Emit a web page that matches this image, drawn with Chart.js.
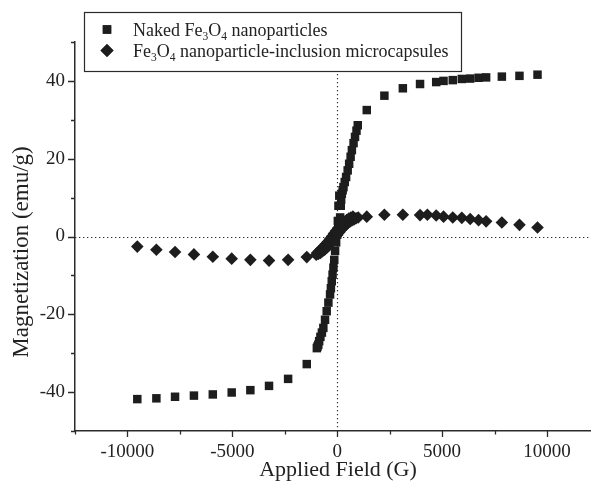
<!DOCTYPE html>
<html>
<head>
<meta charset="utf-8">
<script src="https://cdn.jsdelivr.net/npm/chart.js@4.4.1/dist/chart.umd.min.js"></script>
<style>
    html, body { margin: 0; padding: 0; background: #fff; }
    canvas { display: block; }
</style>
</head>
<body>
<canvas id="loopChart" width="591" height="482"></canvas>
<script>
// ------------------------------------------------------------------
// Data (field in G, magnetization in emu/g)
// ------------------------------------------------------------------

const nakedField = [
    -9530, -8620, -7730, -6830, -5930, -5030, -4140, -3250, -2340, -1450,
    -970, -940, -900, -860, -800, -730, -660, -580, -500, -420,
    -340, -300, -260, -220, -180, -140, -100, -50, 0, 30,
    50, 60, 90, 100, 140, 170, 190, 220, 260, 300,
    360, 425, 500, 570, 640, 700, 780, 850, 920, 980,
    1410, 2250, 3130, 3950, 4720, 5070, 5510, 5940, 6340, 6740,
    7100, 7850, 8690, 9550,
];
const nakedMag = [
    -41.8, -41.6, -41.2, -40.9, -40.6, -40.1, -39.5, -38.4, -36.6, -32.8,
    -28.7, -28.3, -27.8, -26.9, -25.8, -24.7, -23.5, -21.4, -19.2, -17.0,
    -14.9, -13.3, -11.5, -9.8, -8.0, -6.0, -3.7, -1.5, 0.5, 4.0,
    2.5, 7.9, 3.2, 10.5, 4.9, 7.9, 9.5, 11.0, 11.9, 12.7,
    14.0, 15.3, 17.0, 18.7, 20.5, 22.2, 24.0, 25.6, 27.2, 28.6,
    32.5, 36.2, 38.1, 39.2, 39.7, 40.0, 40.2, 40.5, 40.6, 40.8,
    40.9, 41.1, 41.3, 41.6,
];

const capsuleField = [
    -9530, -8620, -7730, -6830, -5930, -5030, -4140, -3250, -2340, -1450,
    -1000, -950, -900, -850, -800, -750, -700, -650, -600, -550,
    -500, -450, -400, -350, -300, -250, -200, -150, -100, -50,
    0, 50, 100, 150, 200, 250, 300, 350, 400, 450,
    500, 550, 600, 650, 700, 750, 800, 900, 1000, 1410,
    2250, 3130, 3950, 4300, 4720, 5070, 5510, 5940, 6340, 6740,
    7100, 7850, 8690, 9550,
];
const capsuleMag = [
    -2.6, -3.4, -4.0, -4.6, -5.2, -5.7, -6.0, -6.2, -6.0, -5.3,
    -4.7, -4.2, -4.5, -3.7, -4.2, -3.2, -3.8, -2.6, -3.4, -2.0,
    -2.9, -1.4, -2.3, -0.7, -1.7, 0.0, -1.0, 0.8, -0.3, 1.5,
    0.4, 2.2, 1.1, 2.8, 1.8, 3.3, 2.4, 3.8, 2.9, 4.2,
    3.4, 4.6, 3.8, 4.9, 4.1, 5.1, 4.4, 4.7, 4.9, 5.1,
    5.6, 5.6, 5.5, 5.6, 5.4, 5.1, 4.9, 4.8, 4.5, 4.2,
    3.9, 3.6, 3.0, 2.3,
];

const xTickValues = [-12500, -10000, -7500, -5000, -2500, 0, 2500, 5000, 7500, 10000];
const yTickValues = [-50, -40, -30, -20, -10, 0, 10, 20, 30, 40, 50];

const xTitle = 'Applied Field (G)';
const yTitle = 'Magnetization (emu/g)';

// legend rows: [text, isSubscript]
const legendRows = [
    { style: 'rect', parts: [['Naked Fe', false], ['3', true], ['O', false], ['4', true], [' nanoparticles', false]] },
    { style: 'rectRot', parts: [['Fe', false], ['3', true], ['O', false], ['4', true], [' nanoparticle-inclusion microcapsules', false]] },
];

const INK = '#1d1d1d';
const AXIS = '#2b2b2b';
const SERIF = '"Liberation Serif", "Times New Roman", serif';

function to_points(xs, ys) {
    return xs.map((v, i) => ({ x: v, y: ys[i] }));
}

// ------------------------------------------------------------------
// Extra drawing: zero lines, tick marks, titles, legend box
// ------------------------------------------------------------------

function draw_rich(ctx, parts, x, y) {
    let cx = x;
    parts.forEach(([text, sub]) => {
        ctx.font = sub ? `11.5px ${SERIF}` : `18px ${SERIF}`;
        ctx.fillText(text, cx, sub ? y + 4.5 : y);
        cx += ctx.measureText(text).width;
    });
}

const decorations = {
    id: 'decorations',
    beforeDatasetsDraw(chart) {
        const { ctx, chartArea: a, scales: { x, y } } = chart;
        ctx.save();
        ctx.strokeStyle = AXIS;
        ctx.lineWidth = 1.2;
        ctx.setLineDash([1.3, 2.7]);
        const x0 = Math.round(x.getPixelForValue(0)) + 0.5;
        const y0 = Math.round(y.getPixelForValue(0)) + 0.5;
        ctx.beginPath();
        ctx.moveTo(x0, a.top);
        ctx.lineTo(x0, a.bottom);
        ctx.moveTo(a.left, y0);
        ctx.lineTo(a.right, y0);
        ctx.stroke();
        ctx.restore();
    },
    afterDraw(chart) {
        const { ctx, chartArea: a, scales: { x, y } } = chart;
        ctx.save();

        // tick marks, major longer than minor
        ctx.strokeStyle = AXIS;
        ctx.lineWidth = 1.3;
        ctx.beginPath();
        x.ticks.forEach(t => {
            const px = Math.round(x.getPixelForValue(t.value)) + 0.5;
            const len = t.value % 5000 === 0 ? 6 : 3.5;
            ctx.moveTo(px, a.bottom);
            ctx.lineTo(px, a.bottom + len);
        });
        y.ticks.forEach(t => {
            const py = Math.round(y.getPixelForValue(t.value)) + 0.5;
            const len = t.value % 20 === 0 ? 7 : 4;
            ctx.moveTo(a.left - len, py);
            ctx.lineTo(a.left, py);
        });
        ctx.stroke();

        // axis titles
        ctx.fillStyle = '#222';
        ctx.font = `22px ${SERIF}`;
        ctx.textAlign = 'center';
        ctx.textBaseline = 'middle';
        ctx.fillText(xTitle, 338, 470);
        ctx.save();
        ctx.translate(22, 252);
        ctx.rotate(-Math.PI / 2);
        ctx.font = `23px ${SERIF}`;
        ctx.fillText(yTitle, 0, 0);
        ctx.restore();

        // legend box
        const box = { left: 84, top: 12, right: 461, bottom: 71 };
        ctx.fillStyle = '#fff';
        ctx.fillRect(box.left, box.top, box.right - box.left, box.bottom - box.top);
        ctx.strokeStyle = AXIS;
        ctx.lineWidth = 1.2;
        ctx.strokeRect(box.left + 0.5, box.top + 0.5, box.right - box.left, box.bottom - box.top);

        ctx.textAlign = 'left';
        ctx.textBaseline = 'alphabetic';
        legendRows.forEach((row, i) => {
            const cy = 29.5 + i * 21;
            ctx.fillStyle = INK;
            Chart.helpers.drawPoint(ctx, { pointStyle: row.style, radius: row.style === 'rect' ? 6 : 6.5, borderWidth: 0 }, 107, cy);
            ctx.fill();
            ctx.fillStyle = '#222';
            draw_rich(ctx, row.parts, 133, cy + 6);
        });

        ctx.restore();
    },
};

// ------------------------------------------------------------------
// Chart
// ------------------------------------------------------------------

new Chart(document.getElementById('loopChart'), {
    type: 'scatter',
    data: {
        datasets: [
            {
                label: 'Naked Fe3O4 nanoparticles',
                data: to_points(nakedField, nakedMag),
                pointStyle: 'rect',
                pointRadius: 6,
                backgroundColor: INK,
                borderWidth: 0,
            },
            {
                label: 'Fe3O4 nanoparticle-inclusion microcapsules',
                data: to_points(capsuleField, capsuleMag),
                pointStyle: 'rectRot',
                pointRadius: 6.3,
                backgroundColor: INK,
                borderWidth: 0,
            },
        ],
    },
    options: {
        responsive: false,
        animation: false,
        devicePixelRatio: 1,
        layout: { autoPadding: false, padding: { top: 42, right: 0, left: 0, bottom: 0 } },
        scales: {
            x: {
                type: 'linear',
                min: -12500,
                max: 12100,
                afterBuildTicks: scale => { scale.ticks = xTickValues.map(v => ({ value: v })); },
                afterFit: scale => { scale.height = 51; },
                ticks: {
                    autoSkip: false,
                    maxRotation: 0,
                    padding: 10,
                    color: '#222',
                    font: { family: SERIF, size: 19 },
                    callback: v => (v % 5000 === 0 ? String(v) : ''),
                },
                grid: { drawOnChartArea: false, drawTicks: false },
                border: { display: true, color: AXIS, width: 1.5 },
            },
            y: {
                type: 'linear',
                min: -50,
                max: 50,
                afterBuildTicks: scale => { scale.ticks = yTickValues.map(v => ({ value: v })); },
                afterFit: scale => { scale.width = 75; },
                ticks: {
                    autoSkip: false,
                    padding: 10,
                    color: '#222',
                    font: { family: SERIF, size: 19 },
                    callback: v => (v % 20 === 0 ? String(v) : ''),
                },
                grid: { drawOnChartArea: false, drawTicks: false },
                border: { display: true, color: AXIS, width: 1.5 },
            },
        },
        plugins: {
            legend: { display: false },
            tooltip: { enabled: false },
        },
    },
    plugins: [decorations],
});
</script>
</body>
</html>
